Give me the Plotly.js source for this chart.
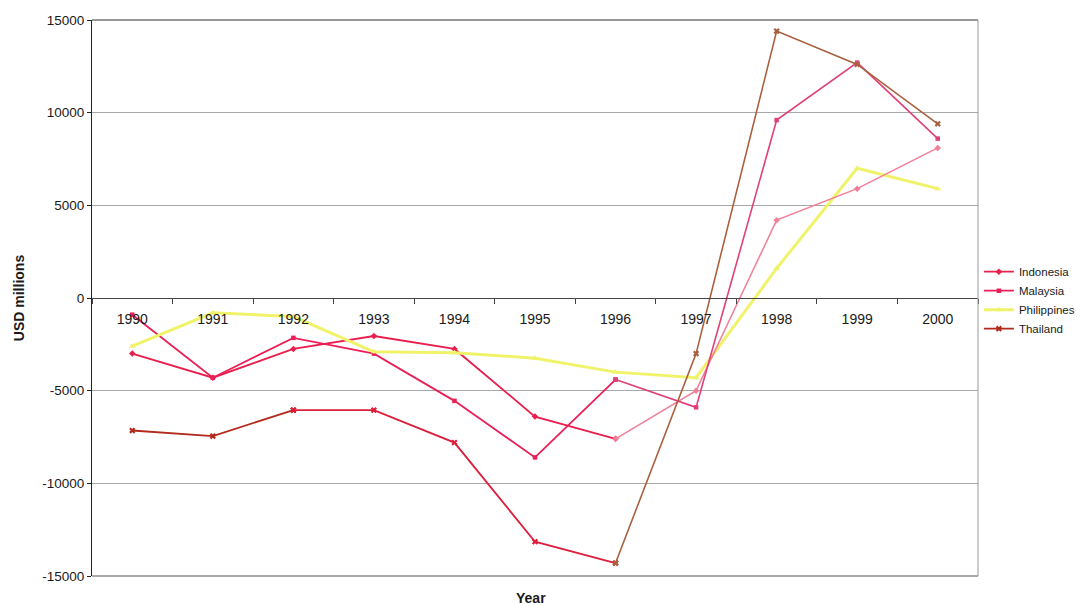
<!DOCTYPE html>
<html>
<head>
<meta charset="utf-8">
<script src="https://cdn.plot.ly/plotly-3.0.1.min.js"></script>
<style>
  html, body { margin: 0; padding: 0; background: #ffffff; }
  #chart { width: 1080px; height: 605px; }
</style>
</head>
<body>
<div id="chart"></div>
<script>
// ---- data ----
const years = ['1990','1991','1992','1993','1994','1995','1996','1997','1998','1999','2000'];
const indonesia   = [-3000, -4300, -2750, -2050, -2750, -6400, -7600, -5000, 4200, 5900, 8100];
const malaysia    = [-900, -4300, -2150, -3000, -5550, -8600, -4400, -5900, 9600, 12700, 8600];
const philippines = [-2600, -800, -1000, -2900, -2950, -3250, -4000, -4300, 1600, 7000, 5900];
const thailand    = [-7150, -7450, -6050, -6050, -7800, -13150, -14300, -3000, 14400, 12600, 9400];
const yTickVals   = [-15000, -10000, -5000, 0, 5000, 10000, 15000];
const yTickText   = ['-15000', '-10000', '-5000', '0', '5000', '10000', '15000'];

const FONT = 'Liberation Sans, Arial, Helvetica, sans-serif';

function seg(name, vals, from, to, color, width, marker, showlegend) {
  return {
    type: 'scatter', mode: 'lines+markers', name: name, legendgroup: name,
    showlegend: showlegend,
    x: years.slice(from, to + 1), y: vals.slice(from, to + 1),
    line: { color: color, width: width },
    marker: Object.assign({ color: color }, marker),
    hoverinfo: 'x+y+name'
  };
}

const mInd = { symbol: 'diamond', size: 5 };
const mMal = { symbol: 'square', size: 4.5 };
const mPhi = { symbol: 'triangle-up', size: 6 };
const mTha = { symbol: 'x', size: 5.5 };

const traces = [
  seg('Indonesia',   indonesia,   0, 6, '#e81e4c', 1.8, mInd, true),
  seg('Malaysia',    malaysia,    0, 6, '#ea1f57', 1.8, mMal, true),
  seg('Philippines', philippines, 0, 10, '#f0f36a', 3, mPhi, true),
  seg('Thailand',    thailand,    0, 2, '#b32a1c', 1.8, mTha, true),
  seg('Thailand',    thailand,    2, 6, '#dc1f3c', 1.8, mTha, false),
  seg('Indonesia',   indonesia,   6, 10, '#f07f98', 1.5, mInd, false),
  seg('Malaysia',    malaysia,    6, 10, '#e0407a', 1.6, mMal, false),
  seg('Thailand',    thailand,    6, 10, '#a8603f', 1.6, mTha, false)
];

const layout = {
  width: 1080, height: 605,
  margin: { l: 92, r: 102, t: 20, b: 29, autoexpand: false },
  paper_bgcolor: '#ffffff', plot_bgcolor: '#ffffff',
  font: { family: FONT, color: '#1a1a1a', size: 12 },
  showlegend: true,
  legend: {
    x: 1.001, xanchor: 'left', y: 0.496, yanchor: 'middle',
    font: { family: FONT, size: 11.5, color: '#1a1a1a' },
    bgcolor: 'rgba(0,0,0,0)', borderwidth: 0, traceorder: 'normal'
  },
  xaxis: {
    type: 'category',
    range: [-0.5, 10.5],
    anchor: 'free', position: 0.5,
    showline: true, linecolor: '#444444', linewidth: 1,
    ticks: 'outside', tickson: 'boundaries', ticklen: 5, tickcolor: '#444444',
    ticklabelstandoff: 8,
    showgrid: false, zeroline: false,
    tickfont: { family: FONT, size: 14, color: '#1a1a1a' },
    fixedrange: true
  },
  yaxis: {
    range: [-15000, 15000],
    tickmode: 'array', tickvals: yTickVals, ticktext: yTickText,
    showline: true, linecolor: '#222222', linewidth: 1,
    ticks: 'outside', ticklen: 4, tickcolor: '#222222',
    showgrid: true, gridcolor: '#a8a8a8', gridwidth: 1,
    zeroline: false,
    tickfont: { family: FONT, size: 13.5, color: '#1a1a1a' },
    title: { text: 'USD millions', font: { family: FONT, size: 14, color: '#1a1a1a', weight: 'bold' }, standoff: 14 },
    fixedrange: true
  },
  annotations: [
    { text: '<b>Year</b>', xref: 'paper', yref: 'paper', x: 0.4955, y: -0.0396,
      xanchor: 'center', yanchor: 'middle', showarrow: false,
      font: { family: FONT, size: 14, color: '#1a1a1a' } }
  ],
  shapes: [
    { type: 'line', xref: 'paper', yref: 'paper', x0: 0, x1: 1, y0: 1, y1: 1, line: { color: '#333333', width: 1 } },
    { type: 'line', xref: 'paper', yref: 'paper', x0: 0, x1: 1, y0: 0, y1: 0, line: { color: '#555555', width: 1 } },
    { type: 'line', xref: 'paper', yref: 'paper', x0: 1, x1: 1, y0: 0, y1: 1, line: { color: '#9a9a9a', width: 1 } }
  ]
};

Plotly.newPlot('chart', traces, layout, { displayModeBar: false, staticPlot: true });
</script>
</body>
</html>
